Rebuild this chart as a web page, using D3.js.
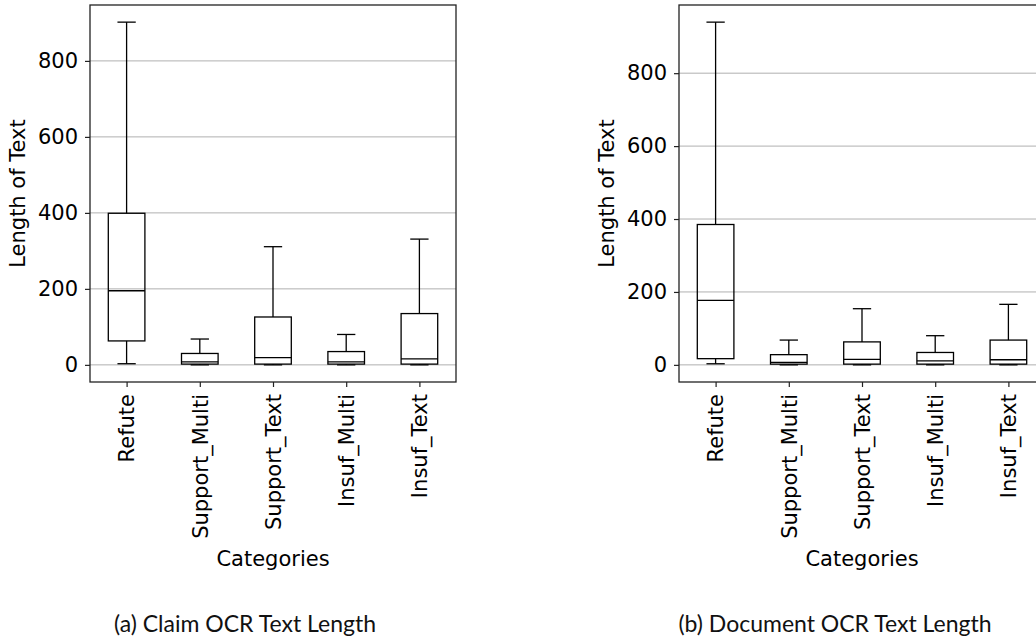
<!DOCTYPE html>
<html>
<head>
<meta charset="utf-8">
<script src="https://cdn.jsdelivr.net/npm/d3@7"></script>
<style>
  body { margin: 0; background: #fff; }
  svg { display: block; }
</style>
</head>
<body>
<div id="chart"></div>
<script>
// Categories shared by both panels
var categories = ["Refute", "Support_Multi", "Support_Text", "Insuf_Multi", "Insuf_Text"];
var yTicks = [0, 200, 400, 600, 800];

// (a) Claim OCR text length - box stats
var claimLow = [3, 0, 0, 0, 0];
var claimQ1 = [63, 2, 2, 2, 2];
var claimMedian = [195, 8, 19, 8, 16];
var claimQ3 = [399, 30, 126, 35, 135];
var claimHigh = [902, 68, 311, 80, 331];

// (b) Document OCR text length
var docLow = [3, 0, 0, 0, 0];
var docQ1 = [17, 2, 2, 2, 2];
var docMedian = [177, 7, 15, 11, 14];
var docQ3 = [385, 28, 63, 34, 68];
var docHigh = [940, 68, 154, 80, 166];

var captions = ["(a) Claim OCR Text Length", "(b) Document OCR Text Length"];

var svgWidth = 1036;
var svgHeight = 642;

var svg = d3.select("#chart")
    .append("svg")
    .attr("width", svgWidth)
    .attr("height", svgHeight);

var plotWidth = 366;
var plotHeight = 377;
var font = "DejaVu Sans";
var fontSize = "21px";

function drawPanel(left, low, q1, median, q3, high, caption, labelX) {
    var g = svg.append("g").attr("transform", `translate(${left}, 5)`);

    var rows = categories.map(function(c, i) {
        return { name: c, pos: i + 1, low: low[i], q1: q1[i], median: median[i], q3: q3[i], high: high[i] };
    });

    var maxVal = d3.max(high);
    var x = d3.scaleLinear().domain([0.5, categories.length + 0.5]).range([0, plotWidth]);
    var y = d3.scaleLinear().domain([-0.05 * maxVal, 1.05 * maxVal]).range([plotHeight, 0]);

    // horizontal grid
    g.append("g")
        .selectAll("line")
        .data(yTicks)
        .enter().append("line")
        .attr("x1", 0).attr("x2", plotWidth)
        .attr("y1", d => y(d)).attr("y2", d => y(d))
        .attr("stroke", "#b0b0b0")
        .attr("stroke-width", 1);

    // axes
    var leftAxis = d3.axisLeft(y).tickValues(yTicks).tickSize(5).tickPadding(7);
    var bottomAxis = d3.axisBottom(x).tickValues(rows.map(d => d.pos))
        .tickFormat((d, i) => categories[i]).tickSize(5).tickPadding(8);

    var ya = g.append("g").call(leftAxis);
    ya.select(".domain").remove();
    ya.selectAll("text").attr("font-family", font).attr("font-size", fontSize).attr("fill", "#000");
    ya.selectAll("line").attr("stroke", "#222").attr("stroke-width", 1.2);

    var xa = g.append("g").attr("transform", `translate(0, ${plotHeight})`).call(bottomAxis);
    xa.select(".domain").remove();
    xa.selectAll("line").attr("stroke", "#222").attr("stroke-width", 1.2);
    xa.selectAll("text")
        .attr("font-family", font).attr("font-size", fontSize).attr("fill", "#000")
        .attr("transform", "rotate(-90)")
        .attr("text-anchor", "end")
        .attr("x", -12)
        .attr("y", 0)
        .attr("dy", "0.35em");

    // boxes
    var boxW = x(1.25) - x(1);
    var capW = boxW / 2;
    var boxes = g.selectAll(".box").data(rows).enter().append("g").attr("class", "box");

    boxes.append("line")
        .attr("x1", d => x(d.pos)).attr("x2", d => x(d.pos))
        .attr("y1", d => y(d.q3)).attr("y2", d => y(d.high))
        .attr("stroke", "#000").attr("stroke-width", 1.3);
    boxes.append("line")
        .attr("x1", d => x(d.pos)).attr("x2", d => x(d.pos))
        .attr("y1", d => y(d.q1)).attr("y2", d => y(d.low))
        .attr("stroke", "#000").attr("stroke-width", 1.3);
    boxes.append("line")
        .attr("x1", d => x(d.pos) - capW).attr("x2", d => x(d.pos) + capW)
        .attr("y1", d => y(d.high)).attr("y2", d => y(d.high))
        .attr("stroke", "#000").attr("stroke-width", 1.3);
    boxes.append("line")
        .attr("x1", d => x(d.pos) - capW).attr("x2", d => x(d.pos) + capW)
        .attr("y1", d => y(d.low)).attr("y2", d => y(d.low))
        .attr("stroke", "#000").attr("stroke-width", 1.3);
    boxes.append("rect")
        .attr("x", d => x(d.pos) - boxW).attr("width", boxW * 2)
        .attr("y", d => y(d.q3)).attr("height", d => y(d.q1) - y(d.q3))
        .attr("fill", "none").attr("stroke", "#000").attr("stroke-width", 1.3);
    boxes.append("line")
        .attr("x1", d => x(d.pos) - boxW).attr("x2", d => x(d.pos) + boxW)
        .attr("y1", d => y(d.median)).attr("y2", d => y(d.median))
        .attr("stroke", "#000").attr("stroke-width", 1.3);

    // frame
    g.append("rect")
        .attr("width", plotWidth).attr("height", plotHeight)
        .attr("fill", "none").attr("stroke", "#222").attr("stroke-width", 1.3);

    // axis titles
    g.append("text")
        .attr("transform", "rotate(-90)")
        .attr("x", -plotHeight / 2)
        .attr("y", labelX)
        .attr("text-anchor", "middle")
        .attr("font-family", font).attr("font-size", fontSize)
        .text("Length of Text");

    g.append("text")
        .attr("x", plotWidth / 2)
        .attr("y", 561)
        .attr("text-anchor", "middle")
        .attr("font-family", font).attr("font-size", fontSize)
        .text("Categories");

    // subfigure caption
    svg.append("text")
        .attr("x", caption.cx)
        .attr("y", 632)
        .attr("text-anchor", "middle")
        .attr("font-family", "Lato")
        .attr("font-size", "23px")
        .attr("fill", "#111")
        .text(caption.text);
}

drawPanel(90, claimLow, claimQ1, claimMedian, claimQ3, claimHigh, { text: captions[0], cx: 245 }, -65);
drawPanel(679, docLow, docQ1, docMedian, docQ3, docHigh, { text: captions[1], cx: 835 }, -65);
</script>
</body>
</html>
